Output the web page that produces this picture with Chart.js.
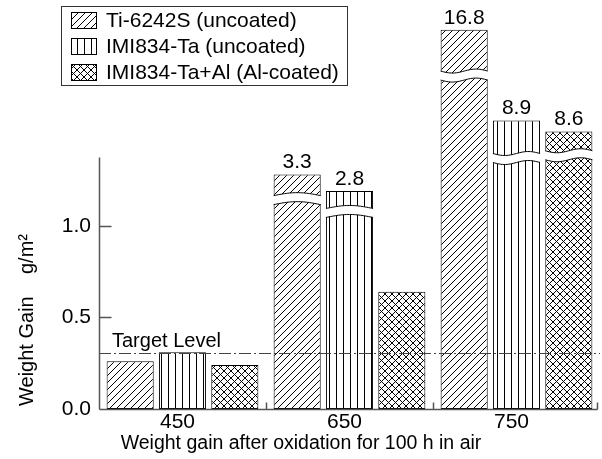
<!DOCTYPE html>
<html>
<head>
<meta charset="utf-8">
<script src="https://cdn.jsdelivr.net/npm/chart.js@4.4.1/dist/chart.umd.min.js"></script>
<style>
html, body { margin: 0; padding: 0; background: #fff; }
#wrap { width: 602px; height: 459px; }
</style>
</head>
<body>
<div id="wrap"><canvas id="c" width="602" height="459"></canvas></div>
<script>
// ---------- data ----------
const categories = ['450', '650', '750'];
const seriesNames = ['Ti-6242S (uncoated)', 'IMI834-Ta (uncoated)', 'IMI834-Ta+Al (Al-coated)'];
// measured weight gain (g/m²)
const tiValues = [0.26, 3.3, 16.8];
const imiValues = [0.31, 2.8, 8.9];
const imiAlValues = [0.24, 0.64, 8.6];
// height at which each bar is drawn on the broken axis
const tiShown = [0.26, 1.28, 2.07];
const imiShown = [0.31, 1.19, 1.575];
const imiAlShown = [0.24, 0.64, 1.515];
// axis value at which a bar is broken (null = not broken)
const tiBreak = [null, 1.14, 1.82];
const imiBreak = [null, 1.07, 1.37];
const imiAlBreak = [null, null, 1.385];
const yTickValues = [0, 0.5, 1.0];
const yAxisTop = 1.373;
const yMax = 2.12;
const targetLevel = 0.307;
const targetLabel = 'Target Level';
const xTitle = 'Weight gain after oxidation for 100 h in air';
const yTitle = 'Weight Gain    g/m\u00B2';

// ---------- styles ----------
const FONT = "'Liberation Sans', Arial, sans-serif";

function makePattern(kind) {
  const s = 7;
  const c = document.createElement('canvas');
  c.width = s; c.height = s;
  const g = c.getContext('2d');
  g.fillStyle = '#fff';
  g.fillRect(0, 0, s, s);
  g.strokeStyle = '#000';
  g.lineWidth = 1;
  g.beginPath();
  if (kind === 'diag' || kind === 'cross') {
    g.moveTo(-1, s + 1); g.lineTo(s + 1, -1);
    g.moveTo(-1, 1); g.lineTo(1, -1);
    g.moveTo(s - 1, s + 1); g.lineTo(s + 1, s - 1);
  }
  if (kind === 'cross') {
    g.moveTo(-1, -1); g.lineTo(s + 1, s + 1);
    g.moveTo(-1, s - 1); g.lineTo(1, s + 1);
    g.moveTo(s - 1, -1); g.lineTo(s + 1, 1);
  }
  if (kind === 'vert') {
    g.moveTo(0.5, 0); g.lineTo(0.5, s);
  }
  g.stroke();
  return g.createPattern(c, 'repeat');
}
const seriesPatterns = [makePattern('diag'), makePattern('vert'), makePattern('cross')];
const seriesShown = [tiShown, imiShown, imiAlShown];
const seriesValues = [tiValues, imiValues, imiAlValues];
const seriesBreaks = [tiBreak, imiBreak, imiAlBreak];

const decor = {
  id: 'decor',
  afterDatasetsDraw(chart) {
    const ctx = chart.ctx;
    const ca = chart.chartArea;
    const xS = chart.scales.x, yS = chart.scales.y;
    ctx.save();

    // broken bars
    seriesBreaks.forEach((brks, i) => {
      const meta = chart.getDatasetMeta(i);
      brks.forEach((b, j) => {
        const bar = meta.data[j];
        if (b !== null) {
          const left = bar.x - bar.width / 2, right = bar.x + bar.width / 2;
          const yc = yS.getPixelForValue(b);
          const gap = 4.5;
          const shape = (t) => (j % 2 === 1) ? -3 * Math.sin(Math.PI * t) : 2 * Math.sin(2 * Math.PI * t);
          const N = 30;
          ctx.beginPath();
          for (let k = 0; k <= N; k++) {
            const t = k / N;
            const x = left - 1.5 + (right - left + 3) * t;
            const y = yc - gap + shape(t);
            if (k === 0) ctx.moveTo(x, y); else ctx.lineTo(x, y);
          }
          for (let k = N; k >= 0; k--) {
            const t = k / N;
            const x = left - 1.5 + (right - left + 3) * t;
            ctx.lineTo(x, yc + gap + shape(t));
          }
          ctx.closePath();
          ctx.fillStyle = '#fff';
          ctx.fill();
          ctx.strokeStyle = '#000';
          ctx.lineWidth = 1;
          [-gap, gap].forEach(off => {
            ctx.beginPath();
            for (let k = 0; k <= N; k++) {
              const t = k / N;
              const x = left + (right - left) * t;
              const y = yc + off + shape(t);
              if (k === 0) ctx.moveTo(x, y); else ctx.lineTo(x, y);
            }
            ctx.stroke();
          });
          // value label
          ctx.fillStyle = '#000';
          ctx.font = '21px ' + FONT;
          ctx.textAlign = 'center';
          ctx.textBaseline = 'alphabetic';
          ctx.fillText(String(seriesValues[i][j]), bar.x, bar.y - 6);
        }
      });
    });

    // target level
    const ty = Math.round(yS.getPixelForValue(targetLevel)) + 0.5;
    ctx.strokeStyle = '#444';
    ctx.lineWidth = 1;
    ctx.setLineDash([12, 3, 2, 3]);
    ctx.beginPath();
    ctx.moveTo(ca.left, ty);
    ctx.lineTo(ca.right, ty);
    ctx.stroke();
    ctx.setLineDash([]);
    ctx.fillStyle = '#000';
    ctx.font = '20px ' + FONT;
    ctx.textAlign = 'left';
    ctx.textBaseline = 'alphabetic';
    ctx.fillText(targetLabel, ca.left + 13, ty - 7);

    // axes
    const x0 = Math.round(ca.left) + 0.5;
    const y0 = Math.round(ca.bottom) + 0.5;
    ctx.strokeStyle = '#555';
    ctx.lineWidth = 1.5;
    ctx.beginPath();
    ctx.moveTo(x0, y0);
    ctx.lineTo(x0, yS.getPixelForValue(yAxisTop));
    yTickValues.forEach(v => {
      if (v > 0) {
        const y = Math.round(yS.getPixelForValue(v)) + 0.5;
        ctx.moveTo(x0, y);
        ctx.lineTo(x0 + 12, y);
      }
    });
    const xr = ca.right - 2.5;
    ctx.moveTo(x0, y0);
    ctx.lineTo(xr, y0);
    for (let i = 0; i < categories.length - 1; i++) {
      const bx = Math.round((xS.getPixelForValue(i) + xS.getPixelForValue(i + 1)) / 2) + 0.5;
      ctx.moveTo(bx, y0);
      ctx.lineTo(bx, y0 - 7);
    }
    ctx.moveTo(xr, y0);
    ctx.lineTo(xr, y0 - 7);
    ctx.stroke();

    // x title
    ctx.fillStyle = '#000';
    ctx.font = '19.5px ' + FONT;
    ctx.textAlign = 'center';
    ctx.textBaseline = 'middle';
    ctx.fillText(xTitle, 301, 444);

    // y title
    ctx.save();
    ctx.translate(33, 320);
    ctx.rotate(-Math.PI / 2);
    ctx.fillStyle = '#000';
    ctx.font = '20px ' + FONT;
    ctx.textAlign = 'center';
    ctx.textBaseline = 'alphabetic';
    ctx.fillText(yTitle, 0, 0);
    ctx.restore();

    // legend
    const lx = 61, ly = 6, lw = 286, lh = 79;
    ctx.fillStyle = '#fff';
    ctx.fillRect(lx, ly, lw, lh);
    ctx.strokeStyle = '#333';
    ctx.lineWidth = 1;
    ctx.strokeRect(lx + 0.5, ly + 0.5, lw, lh);
    seriesNames.forEach((name, i) => {
      const cy = ly + 14 + i * 26;
      ctx.fillStyle = seriesPatterns[i];
      ctx.fillRect(71, cy - 8, 25, 16);
      ctx.strokeStyle = '#000';
      ctx.strokeRect(71.5, cy - 7.5, 25, 16);
      ctx.fillStyle = '#000';
      ctx.font = '21px ' + FONT;
      ctx.textAlign = 'left';
      ctx.textBaseline = 'middle';
      ctx.fillText(name, 106, cy + 1);
    });

    ctx.restore();
  }
};

new Chart(document.getElementById('c'), {
  type: 'bar',
  data: {
    labels: categories,
    datasets: seriesNames.map((name, i) => ({
      label: name,
      data: seriesShown[i],
      backgroundColor: seriesPatterns[i],
      borderColor: '#000',
      borderWidth: 1,
      borderSkipped: false,
      categoryPercentage: 0.94,
      barPercentage: 0.9
    }))
  },
  options: {
    responsive: false,
    animation: false,
    devicePixelRatio: 1,
    layout: { padding: { top: 20, right: 2, bottom: 0, left: 0 } },
    plugins: { legend: { display: false }, tooltip: { enabled: false } },
    scales: {
      x: {
        grid: { display: false, drawTicks: false },
        border: { display: false },
        ticks: { font: { family: FONT, size: 21 }, color: '#000', padding: 1, labelOffset: -5 },
        title: { display: false },
        afterFit(s) { s.height = 50; }
      },
      y: {
        min: 0,
        max: yMax,
        grid: { display: false, drawTicks: false },
        border: { display: false },
        afterBuildTicks(s) { s.ticks = yTickValues.map(v => ({ value: v })); },
        ticks: { font: { family: FONT, size: 21 }, color: '#000', padding: 8, callback: (v) => Number(v).toFixed(1) },
        afterFit(s) { s.width = 99; }
      }
    }
  },
  plugins: [decor]
});
</script>
</body>
</html>
